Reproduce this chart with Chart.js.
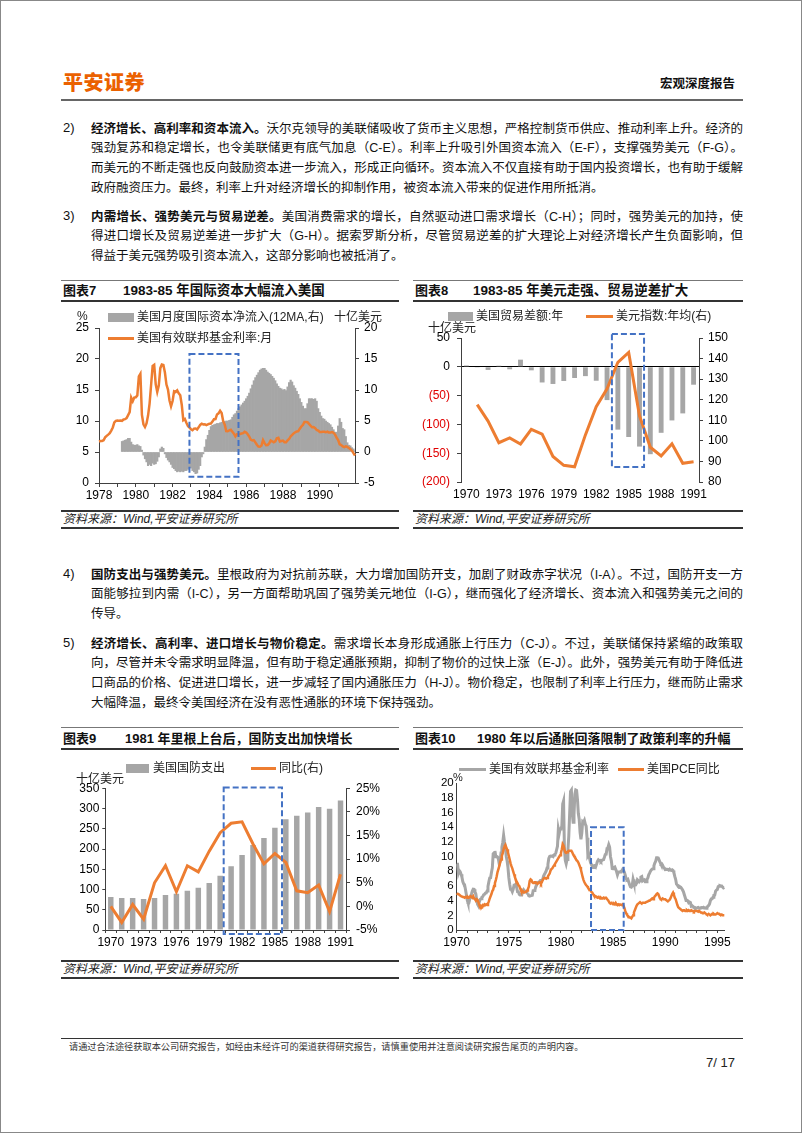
<!DOCTYPE html>
<html>
<head>
<meta charset="utf-8">
<script src="https://cdn.jsdelivr.net/npm/chart.js@4.4.1/dist/chart.umd.min.js"></script>
<style>
  body { margin: 0; background: #fff; }
  .page { position: relative; width: 800px; height: 1131px; border: 1px solid #888; overflow: hidden;
          font-family: "Liberation Sans", "Noto Sans CJK SC", sans-serif; color: #111; }
  .abs { position: absolute; }
  .logo { left: 62px; top: 66px; font-size: 20px; font-weight: 900; color: #eb6100; letter-spacing: 0.5px; font-family: "Noto Sans CJK SC", sans-serif; }
  .rtitle { right: 66px; top: 72px; font-size: 12.5px; font-weight: bold; font-family: "Noto Sans CJK SC", sans-serif; }
  .hline { left: 60px; top: 98px; width: 682px; height: 2px; background: #666; }
  .num { left: 62px; font-size: 13px; line-height: 20px; height: 20px; }
  .ln { left: 90px; width: 652px; height: 20px; line-height: 20px; font-size: 12.5px;
        text-align: justify; text-align-last: justify; font-family: "Liberation Sans", "Noto Sans CJK SC", sans-serif; }
  .ln.last { text-align-last: left; }
  .ln b { font-family: "Noto Sans CJK SC", sans-serif; }
  .tline { height: 0; border-top: 1px solid #777; }
  .bline { height: 0; border-top: 2px solid #333; }
  .ttl { font-size: 13px; font-weight: bold; line-height: 16px; font-family: "Liberation Sans", "Noto Sans CJK SC", sans-serif; }
  .src { font-size: 12px; font-style: italic; line-height: 14px; color: #222; }
  .leg { font-size: 12px; line-height: 14px; color: #222; white-space: nowrap; }
  .box { background: #a6a6a6; }
  .oline { background: #ed7d31; height: 3px; }
  .gline { background: #a6a6a6; height: 3px; }
  .cw { position: absolute; }
</style>
</head>
<body>
<div class="page">
  <div class="abs logo">平安证券</div>
  <div class="abs rtitle">宏观深度报告</div>
  <div class="abs hline"></div>

  <div class="abs num" style="top:117px">2)</div>
  <div class="abs ln" style="top:117px"><b>经济增长、高利率和资本流入。</b>沃尔克领导的美联储吸收了货币主义思想，严格控制货币供应、推动利率上升。经济的</div>
  <div class="abs ln" style="top:137px">强劲复苏和稳定增长，也令美联储更有底气加息（C-E）。利率上升吸引外国资本流入（E-F），支撑强势美元（F-G）。</div>
  <div class="abs ln" style="top:157px">而美元的不断走强也反向鼓励资本进一步流入，形成正向循环。资本流入不仅直接有助于国内投资增长，也有助于缓解</div>
  <div class="abs ln last" style="top:177px">政府融资压力。最终，利率上升对经济增长的抑制作用，被资本流入带来的促进作用所抵消。</div>

  <div class="abs num" style="top:205px">3)</div>
  <div class="abs ln" style="top:205px"><b>内需增长、强势美元与贸易逆差。</b>美国消费需求的增长，自然驱动进口需求增长（C-H）；同时，强势美元的加持，使</div>
  <div class="abs ln" style="top:225px">得进口增长及贸易逆差进一步扩大（G-H）。据索罗斯分析，尽管贸易逆差的扩大理论上对经济增长产生负面影响，但</div>
  <div class="abs ln last" style="top:245px">得益于美元强势吸引资本流入，这部分影响也被抵消了。</div>

  <!-- chart 7 / 8 frames -->
  <div class="abs tline" style="left:60px;top:279px;width:338px"></div>
  <div class="abs bline" style="left:60px;top:299px;width:338px"></div>
  <div class="abs ttl" style="left:62px;top:282px">图表7</div>
  <div class="abs ttl" style="left:122px;top:282px;font-size:13.5px">1983-85 年国际资本大幅流入美国</div>
  <div class="abs tline" style="left:412px;top:279px;width:330px"></div>
  <div class="abs bline" style="left:412px;top:299px;width:330px"></div>
  <div class="abs ttl" style="left:414px;top:282px">图表8</div>
  <div class="abs ttl" style="left:472px;top:282px;font-size:13.5px">1983-85 年美元走强、贸易逆差扩大</div>

  <div class="cw" style="left:60px;top:305px;width:338px;height:200px"><canvas id="c7"></canvas></div>
  <div class="cw" style="left:412px;top:305px;width:330px;height:200px"><canvas id="c8"></canvas></div>

  <div class="abs leg" style="left:76px;top:308px">%</div>
  <div class="abs box" style="left:107px;top:312px;width:26px;height:9px"></div>
  <div class="abs leg" style="left:136px;top:309px">美国月度国际资本净流入(12MA,右)</div>
  <div class="abs leg" style="left:333px;top:309px">十亿美元</div>
  <div class="abs oline" style="left:107px;top:336px;width:26px"></div>
  <div class="abs leg" style="left:136px;top:330px">美国有效联邦基金利率:月</div>

  <div class="abs box" style="left:447px;top:311px;width:25px;height:9px"></div>
  <div class="abs leg" style="left:475px;top:308px">美国贸易差额:年</div>
  <div class="abs oline" style="left:585px;top:314px;width:27px"></div>
  <div class="abs leg" style="left:615px;top:308px">美元指数:年均(右)</div>
  <div class="abs leg" style="left:427px;top:320px">十亿美元</div>

  <div class="abs bline" style="left:60px;top:509px;width:338px"></div>
  <div class="abs src" style="left:62px;top:511px">资料来源：Wind,平安证券研究所</div>
  <div class="abs bline" style="left:60px;top:526px;width:338px"></div>
  <div class="abs bline" style="left:412px;top:509px;width:330px"></div>
  <div class="abs src" style="left:414px;top:511px">资料来源：Wind,平安证券研究所</div>
  <div class="abs bline" style="left:412px;top:526px;width:330px"></div>

  <div class="abs num" style="top:563px">4)</div>
  <div class="abs ln" style="top:563px"><b>国防支出与强势美元。</b>里根政府为对抗前苏联，大力增加国防开支，加剧了财政赤字状况（I-A）。不过，国防开支一方</div>
  <div class="abs ln" style="top:583px">面能够拉到内需（I-C），另一方面帮助巩固了强势美元地位（I-G），继而强化了经济增长、资本流入和强势美元之间的</div>
  <div class="abs ln last" style="top:603px">传导。</div>

  <div class="abs num" style="top:632px">5)</div>
  <div class="abs ln" style="top:632px"><b>经济增长、高利率、进口增长与物价稳定。</b>需求增长本身形成通胀上行压力（C-J）。不过，美联储保持紧缩的政策取</div>
  <div class="abs ln" style="top:652px">向，尽管并未令需求明显降温，但有助于稳定通胀预期，抑制了物价的过快上涨（E-J）。此外，强势美元有助于降低进</div>
  <div class="abs ln" style="top:672px">口商品的价格、促进进口增长，进一步减轻了国内通胀压力（H-J）。物价稳定，也限制了利率上行压力，继而防止需求</div>
  <div class="abs ln last" style="top:692px">大幅降温，最终令美国经济在没有恶性通胀的环境下保持强劲。</div>

  <!-- chart 9 / 10 frames -->
  <div class="abs tline" style="left:60px;top:726px;width:338px"></div>
  <div class="abs bline" style="left:60px;top:747px;width:338px"></div>
  <div class="abs ttl" style="left:62px;top:730px">图表9</div>
  <div class="abs ttl" style="left:124px;top:730px">1981 年里根上台后，国防支出加快增长</div>
  <div class="abs tline" style="left:412px;top:726px;width:330px"></div>
  <div class="abs bline" style="left:412px;top:747px;width:330px"></div>
  <div class="abs ttl" style="left:414px;top:730px">图表10</div>
  <div class="abs ttl" style="left:476px;top:730px">1980 年以后通胀回落限制了政策利率的升幅</div>

  <div class="cw" style="left:60px;top:752px;width:338px;height:200px"><canvas id="c9"></canvas></div>
  <div class="cw" style="left:412px;top:752px;width:330px;height:200px"><canvas id="c10"></canvas></div>

  <div class="abs box" style="left:125px;top:763px;width:23px;height:9px"></div>
  <div class="abs leg" style="left:152px;top:760px">美国国防支出</div>
  <div class="abs oline" style="left:250px;top:766px;width:25px"></div>
  <div class="abs leg" style="left:278px;top:760px">同比(右)</div>
  <div class="abs leg" style="left:75px;top:771px">十亿美元</div>

  <div class="abs gline" style="left:458px;top:767px;width:27px"></div>
  <div class="abs leg" style="left:488px;top:761px">美国有效联邦基金利率</div>
  <div class="abs oline" style="left:617px;top:767px;width:26px"></div>
  <div class="abs leg" style="left:646px;top:761px">美国PCE同比</div>
  <div class="abs leg" style="left:452px;top:769px;font-size:11px">%</div>

  <div class="abs bline" style="left:60px;top:959px;width:338px"></div>
  <div class="abs src" style="left:62px;top:961px">资料来源：Wind,平安证券研究所</div>
  <div class="abs bline" style="left:60px;top:976px;width:338px"></div>
  <div class="abs bline" style="left:412px;top:959px;width:330px"></div>
  <div class="abs src" style="left:414px;top:961px">资料来源：Wind,平安证券研究所</div>
  <div class="abs bline" style="left:412px;top:976px;width:330px"></div>

  <div class="abs" style="left:60px;top:1037px;width:682px;height:0;border-top:1px solid #333"></div>
  <div class="abs" style="left:68px;top:1039px;font-size:9.2px;line-height:12px;color:#333;font-family:'Noto Sans CJK SC',sans-serif">请通过合法途径获取本公司研究报告，如经由未经许可的渠道获得研究报告，请慎重使用并注意阅读研究报告尾页的声明内容。</div>
  <div class="abs" style="right:66px;top:1054px;font-size:13px;line-height:16px;color:#222">7/ 17</div>
</div>

<script>
// effective fed funds rate, monthly, 1970-01 .. 1995-09
const fedFunds = [
  8.98, 8.98, 7.76, 8.10, 7.95, 7.61, 7.21, 6.61, 6.29, 6.20, 5.60, 4.90,
  4.14, 3.72, 3.71, 4.16, 4.63, 4.91, 5.31, 5.57, 5.55, 5.20, 4.91, 4.14,
  3.50, 3.29, 3.83, 4.17, 4.27, 4.46, 4.55, 4.80, 4.87, 5.04, 5.06, 5.33,
  5.94, 6.58, 7.09, 7.12, 7.84, 8.49, 10.40, 10.50, 10.78, 10.01, 10.03, 9.95,
  9.65, 8.97, 9.35, 10.51, 11.31, 11.93, 12.92, 12.01, 11.34, 10.06, 9.45, 8.53,
  7.13, 6.24, 5.54, 5.49, 5.22, 5.55, 6.10, 6.14, 6.24, 5.82, 5.22, 5.20,
  4.87, 4.77, 4.84, 4.82, 5.29, 5.48, 5.31, 5.29, 5.25, 5.02, 4.95, 4.65,
  4.61, 4.68, 4.69, 4.73, 5.35, 5.39, 5.42, 5.90, 6.14, 6.47, 6.51, 6.56,
  6.70, 6.78, 6.79, 6.89, 7.36, 7.60, 7.81, 8.04, 8.45, 8.96, 9.76, 10.03,
  10.07, 10.06, 10.09, 10.01, 10.24, 10.29, 10.47, 10.94, 11.43, 13.77, 13.18, 13.78,
  13.82, 14.13, 17.19, 17.61, 10.98, 9.47, 9.03, 9.61, 10.87, 12.81, 15.85, 18.90,
  19.08, 15.93, 14.70, 15.72, 18.52, 19.10, 19.04, 17.82, 15.87, 15.08, 13.31, 12.37,
  13.22, 14.78, 14.68, 14.94, 14.45, 14.15, 12.59, 10.12, 10.31, 9.71, 9.20, 8.95,
  8.68, 8.51, 8.77, 8.80, 8.63, 8.98, 9.37, 9.56, 9.45, 9.48, 9.34, 9.47,
  9.56, 9.59, 9.91, 10.29, 10.32, 11.06, 11.23, 11.64, 11.30, 9.99, 9.43, 8.38,
  8.35, 8.50, 8.58, 8.27, 7.97, 7.53, 7.88, 7.90, 7.92, 7.99, 8.05, 8.27,
  8.14, 7.86, 7.48, 6.99, 6.85, 6.92, 6.56, 6.17, 5.89, 5.85, 6.04, 6.91,
  6.43, 6.10, 6.13, 6.37, 6.85, 6.73, 6.58, 6.73, 7.22, 7.29, 6.69, 6.77,
  6.83, 6.58, 6.58, 6.87, 7.09, 7.51, 7.75, 8.01, 8.19, 8.30, 8.35, 8.76,
  9.12, 9.36, 9.85, 9.84, 9.81, 9.53, 9.24, 8.99, 9.02, 8.84, 8.55, 8.45,
  8.23, 8.24, 8.28, 8.26, 8.18, 8.29, 8.15, 8.13, 8.20, 8.11, 7.81, 7.31,
  6.91, 6.25, 6.12, 5.91, 5.78, 5.90, 5.82, 5.66, 5.45, 5.21, 4.81, 4.43,
  4.03, 4.06, 3.98, 3.73, 3.82, 3.76, 3.25, 3.30, 3.22, 3.10, 3.09, 2.92,
  3.02, 3.03, 3.07, 2.96, 3.00, 3.04, 3.06, 3.03, 3.09, 2.99, 3.02, 2.96,
  3.05, 3.25, 3.34, 3.56, 4.01, 4.25, 4.26, 4.47, 4.73, 4.76, 5.29, 5.45,
  5.53, 5.92, 5.98, 6.05, 6.01, 6.00, 5.85, 5.74, 5.80
];
// PCE yoy %, monthly, 1970-01 .. 1995-09
const pceYoy = [
  5.0, 4.9, 4.9, 4.8, 4.7, 4.6, 4.6, 4.5, 4.5, 4.4, 4.5, 4.5,
  4.4, 4.5, 4.4, 4.5, 4.6, 4.5, 4.4, 4.6, 4.3, 4.2, 4.0, 4.2,
  4.1, 3.8, 3.4, 3.1, 3.3, 3.2, 3.4, 3.3, 3.5, 3.4, 3.5, 3.4,
  3.6, 3.9, 4.3, 4.6, 4.9, 5.3, 5.5, 6.0, 6.4, 6.8, 7.3, 7.9,
  8.3, 8.7, 9.2, 9.6, 10.1, 10.5, 11.0, 11.4, 11.6, 11.3, 11.0, 10.6,
  10.1, 9.6, 9.1, 8.7, 8.4, 8.0, 7.6, 7.2, 6.9, 6.6, 6.4, 6.1,
  6.0, 5.7, 5.4, 5.3, 5.3, 5.1, 5.1, 5.2, 5.2, 5.4, 5.6, 5.9,
  6.7, 6.9, 6.8, 6.5, 6.4, 6.4, 6.5, 6.5, 6.4, 6.3, 6.4, 6.5,
  6.5, 6.3, 6.5, 6.8, 7.0, 7.1, 7.1, 7.0, 7.1, 7.3, 7.5, 7.7,
  8.1, 8.3, 8.4, 8.6, 8.8, 9.0, 9.2, 9.4, 9.6, 9.8, 10.0, 10.2,
  10.5, 11.0, 11.7, 11.5, 11.0, 10.6, 10.5, 10.6, 10.7, 10.8, 10.8, 10.8,
  10.8, 10.6, 10.3, 10.1, 10.0, 9.7, 9.5, 9.4, 9.2, 8.9, 8.6, 8.2,
  7.7, 7.2, 6.8, 6.5, 6.3, 6.1, 6.0, 5.8, 5.6, 5.5, 5.4, 5.2,
  5.1, 4.9, 4.7, 4.6, 4.6, 4.5, 4.4, 4.5, 4.4, 4.3, 4.4, 4.3,
  4.3, 4.4, 4.3, 4.4, 4.4, 4.2, 4.1, 3.9, 3.7, 3.6, 3.7, 3.6,
  3.5, 3.6, 3.5, 3.7, 3.5, 3.4, 3.5, 3.4, 3.5, 3.5, 3.4, 3.5,
  3.3, 3.0, 2.6, 2.3, 2.1, 1.9, 1.8, 1.7, 1.7, 1.6, 1.8, 2.0,
  2.4, 2.7, 3.0, 3.3, 3.5, 3.6, 3.7, 3.8, 3.7, 3.6, 3.7, 3.7,
  3.7, 3.7, 3.8, 3.8, 3.9, 4.0, 4.0, 4.1, 4.2, 4.3, 4.2, 4.4,
  4.6, 4.7, 4.9, 5.0, 4.9, 4.6, 4.3, 4.2, 4.2, 4.3, 4.2, 4.2,
  4.2, 4.1, 4.0, 3.9, 4.0, 4.1, 4.3, 4.6, 4.9, 5.1, 4.8, 4.4,
  4.2, 3.8, 3.4, 3.1, 3.0, 2.9, 2.8, 2.7, 2.6, 2.7, 2.7, 2.6,
  2.6, 2.7, 2.6, 2.7, 2.6, 2.6, 2.7, 2.6, 2.6, 2.5, 2.6, 2.6,
  2.6, 2.6, 2.5, 2.6, 2.5, 2.4, 2.4, 2.3, 2.3, 2.4, 2.3, 2.2,
  2.1, 2.1, 2.2, 2.1, 2.0, 2.1, 2.2, 2.1, 2.2, 2.1, 2.1, 2.2,
  2.3, 2.2, 2.2, 2.1, 2.1, 2.1, 2.0, 2.0, 2.0
];
// net capital inflow, 12MA, bn USD, monthly, 1978-01 .. 1991-12
const capInflow = [
  null, null, null, null, null, null, null, null, null, null, null, null,
  null, null, null, 1.7, 1.8, 1.9, 2.0, 2.2, 2.2, 1.6, 1.2, 1.1,
  1.1, 1.2, 1.0, 0.9, 0.3, -0.5, -1.1, -1.6, -2.2, -2.0, -2.2, -1.8,
  -2.0, -1.9, -1.5, -0.8, 0.5, 0.8, 0.6, -0.3, -0.9, -1.3, -1.6, -2.0,
  -2.5, -2.7, -3.0, -3.2, -3.1, -3.2, -3.1, -3.2, -3.0, -3.0, -2.8, -2.4,
  -2.6, -3.0, -3.2, -3.5, -3.4, -2.8, -2.2, -0.8, -0.3, 0.8, 2.0, 2.7,
  3.5, 4.1, 4.3, 4.4, 4.5, 4.6, 4.6, 4.7, 4.8, 4.9, 4.9, 5.0,
  5.0, 5.1, 5.2, 5.6, 6.0, 6.2, 6.6, 7.0, 7.3, 7.6, 7.9, 8.2,
  8.6, 9.0, 9.5, 10.2, 10.8, 11.5, 12.0, 12.4, 12.8, 13.2, 13.4, 13.5,
  13.5, 13.2, 12.9, 12.7, 12.5, 12.2, 11.9, 11.5, 11.0, 10.6, 10.3, 10.2,
  10.0, 10.1, 9.9, 10.5, 11.2, 11.6, 11.3, 10.7, 10.3, 9.8, 9.3, 8.6,
  8.0, 7.4, 7.0, 7.0, 7.8, 8.6, 8.6, 8.6, 8.5, 8.6, 8.2, 7.0,
  6.4, 5.8, 5.4, 5.3, 5.0, 4.8, 4.6, 4.4, 4.0, 3.6, 3.2, 3.2,
  4.2, 5.4, 4.8, 3.8, 3.6, 2.5, 1.5, 1.1, 1.0, 0.7, 0.5, 0.2
];

const years = ["1970", "1971", "1972", "1973", "1974", "1975", "1976", "1977", "1978", "1979", "1980",
  "1981", "1982", "1983", "1984", "1985", "1986", "1987", "1988", "1989", "1990", "1991"];
const tradeBalance = [2.3, -1.3, -5.4, 1.9, -4.3, 12.4, -6.1, -27.2, -29.8, -24.6, -19.4,
  -16.2, -24.2, -57.8, -109.1, -121.9, -138.5, -151.7, -114.6, -93.1, -80.9, -31.1];
const dollarIndex = [null, 117.6, 109.6, 99.1, 101.4, 98.5, 105.6, 103.3, 92.4, 88.1, 87.4,
  102.9, 116.6, 125.3, 138.2, 143.0, 112.2, 96.9, 92.7, 98.6, 89.1, 89.8];
const defenseSpend = [81.7, 78.9, 79.2, 76.7, 79.3, 86.5, 89.6, 97.2, 104.5, 116.3, 134.0,
  157.5, 185.3, 209.9, 227.4, 252.7, 273.4, 282.0, 290.4, 303.6, 299.3, 320.0];
const defenseYoy = [0.0, -3.4, 0.4, -2.7, 5.0, 8.6, 3.1, 8.6, 7.3, 11.7, 15.6,
  17.6, 17.9, 13.2, 9.0, 11.2, 9.3, 3.3, 2.9, 4.5, -1.1, 6.8];

function monthLabels(y0, y1, lastMonth) {
  const out = [];
  for (let y = y0; y <= y1; y++) {
    const end = y === y1 ? lastMonth : 12;
    for (let m = 1; m <= end; m++) out.push(y + "-" + (m < 10 ? "0" + m : m));
  }
  return out;
}
const months7 = monthLabels(1978, 1991, 12);
const months10 = monthLabels(1970, 1995, 9);
const fed7 = fedFunds.slice(months10.indexOf("1978-01"), months10.indexOf("1991-12") + 1);

const ORANGE = "#ed7d31";
const GRAY = "#a6a6a6";
const AX = "#404040";
const CLEAR = "rgba(0,0,0,0)";

Chart.defaults.font.family = '"Liberation Sans", "Noto Sans CJK SC", sans-serif';
Chart.defaults.font.size = 12;
Chart.defaults.color = "#000";

// blue dashed highlight box, placed in data units
const dashBox = {
  id: "dashBox",
  afterDraw(chart, args, opts) {
    const xs = chart.scales.x;
    const ys = chart.scales[opts.axis];
    const x0 = xs.getPixelForValue(opts.x0), x1 = xs.getPixelForValue(opts.x1);
    const y0 = ys.getPixelForValue(opts.y0), y1 = ys.getPixelForValue(opts.y1);
    const c = chart.ctx;
    c.save();
    c.setLineDash([6, 3]);
    c.strokeStyle = "#4472c4";
    c.lineWidth = 2;
    c.strokeRect(x0, y1, x1 - x0, y0 - y1);
    c.restore();
  }
};

const base = {
  animation: false,
  responsive: true,
  maintainAspectRatio: false,
  plugins: { legend: { display: false }, tooltip: { enabled: false } }
};

// chart 7
new Chart(document.getElementById("c7"), {
  type: "bar",
  data: {
    labels: months7,
    datasets: [
      { type: "line", data: fed7, yAxisID: "y", borderColor: ORANGE, borderWidth: 2.5, pointRadius: 0, order: 0 },
      { type: "bar", data: capInflow, yAxisID: "y2", backgroundColor: GRAY, barPercentage: 1, categoryPercentage: 1, order: 1 }
    ]
  },
  options: {
    ...base,
    layout: { padding: { top: 22 } },
    plugins: { ...base.plugins, dashBox: { axis: "y", x0: 59, x1: 91, y0: 1, y1: 20.8 } },
    scales: {
      x: {
        offset: false,
        grid: { offset: false, drawOnChartArea: false, tickLength: 4, color: c => (c.index % 12 === 0 ? AX : CLEAR) },
        border: { color: AX },
        ticks: {
          autoSkip: false, maxRotation: 0, padding: 1,
          callback: (v, i) => (i % 24 === 0 ? months7[i].slice(0, 4) : "")
        },
        afterFit: s => { s.height = 23; }
      },
      y: {
        position: "left", min: 0, max: 25,
        ticks: { stepSize: 5, padding: 6 },
        grid: { drawOnChartArea: false, tickLength: 4, color: AX },
        border: { color: AX },
        afterFit: s => { s.width = 38; }
      },
      y2: {
        position: "right", min: -5, max: 20,
        ticks: { stepSize: 5, padding: 5 },
        grid: { drawOnChartArea: false, tickLength: 4, color: AX },
        border: { color: AX },
        afterFit: s => { s.width = 44; }
      }
    }
  },
  plugins: [dashBox]
});

// chart 8
new Chart(document.getElementById("c8"), {
  type: "bar",
  data: {
    labels: years,
    datasets: [
      { type: "line", data: dollarIndex, yAxisID: "y2", borderColor: ORANGE, borderWidth: 3, pointRadius: 0, order: 0 },
      { type: "bar", data: tradeBalance, yAxisID: "y", backgroundColor: GRAY, barPercentage: 0.45, categoryPercentage: 1, order: 1 }
    ]
  },
  options: {
    ...base,
    layout: { padding: { top: 32 } },
    plugins: { ...base.plugins, dashBox: { axis: "y2", x0: 13.45, x1: 16.42, y0: 87.3, y1: 152 } },
    scales: {
      x: {
        grid: { display: false, drawTicks: false },
        border: { display: false },
        ticks: { autoSkip: false, maxRotation: 0, padding: 5, callback: (v, i) => (i % 3 === 0 ? years[i] : "") },
        afterFit: s => { s.height = 24; }
      },
      y: {
        position: "left", min: -200, max: 50,
        ticks: {
          stepSize: 50, padding: 7,
          color: c => (c.tick && c.tick.value < 0 ? "#e00000" : "#000"),
          callback: v => (v < 0 ? "(" + (-v) + ")" : String(v))
        },
        grid: { drawOnChartArea: true, tickLength: 4, tickColor: AX, color: c => (c.tick && c.tick.value === 0 ? "#000" : CLEAR) },
        border: { color: AX },
        afterFit: s => { s.width = 48; }
      },
      y2: {
        position: "right", min: 80, max: 150,
        ticks: { stepSize: 10, padding: 5 },
        grid: { drawOnChartArea: false, tickLength: 4, color: AX },
        border: { color: AX },
        afterFit: s => { s.width = 44; }
      }
    }
  },
  plugins: [dashBox]
});

// chart 9
new Chart(document.getElementById("c9"), {
  type: "bar",
  data: {
    labels: years,
    datasets: [
      { type: "line", data: defenseYoy, yAxisID: "y2", borderColor: ORANGE, borderWidth: 3, pointRadius: 0, order: 0 },
      { type: "bar", data: defenseSpend, yAxisID: "y", backgroundColor: GRAY, barPercentage: 0.5, categoryPercentage: 1, order: 1 }
    ]
  },
  options: {
    ...base,
    layout: { padding: { top: 35.3 } },
    plugins: { ...base.plugins, dashBox: { axis: "y", x0: 10.32, x1: 15.65, y0: -10, y1: 352 } },
    scales: {
      x: {
        grid: { drawOnChartArea: false, tickLength: 3, color: AX },
        border: { color: AX },
        ticks: { autoSkip: false, maxRotation: 0, padding: 2, callback: (v, i) => (i % 3 === 0 ? years[i] : "") },
        afterFit: s => { s.height = 23; }
      },
      y: {
        position: "left", min: 0, max: 350,
        ticks: { stepSize: 50, padding: 3 },
        grid: { drawOnChartArea: false, tickLength: 3, color: AX },
        border: { color: AX },
        afterFit: s => { s.width = 44.3; }
      },
      y2: {
        position: "right", min: -5, max: 25,
        ticks: { stepSize: 5, padding: 6, callback: v => v + "%" },
        grid: { drawOnChartArea: false, tickLength: 4, color: AX },
        border: { color: AX },
        afterFit: s => { s.width = 53; }
      }
    }
  },
  plugins: [dashBox]
});

// chart 10
new Chart(document.getElementById("c10"), {
  type: "line",
  data: {
    labels: months10,
    datasets: [
      { data: pceYoy, borderColor: ORANGE, borderWidth: 2.5, pointRadius: 0, order: 0 },
      { data: fedFunds, borderColor: GRAY, borderWidth: 3, pointRadius: 0, order: 1 }
    ]
  },
  options: {
    ...base,
    layout: { padding: { top: 30.3, right: 18.7 } },
    plugins: { ...base.plugins, dashBox: { axis: "y", x0: 154.6, x1: 192.2, y0: 0, y1: 14 } },
    scales: {
      x: {
        offset: false,
        grid: { drawOnChartArea: false, tickLength: 3, color: c => (c.index % 12 === 0 ? AX : CLEAR) },
        border: { color: AX },
        ticks: { autoSkip: false, maxRotation: 0, padding: 2, callback: (v, i) => (i % 60 === 0 ? months10[i].slice(0, 4) : "") },
        afterFit: s => { s.height = 23; }
      },
      y: {
        min: 0, max: 20,
        ticks: { stepSize: 2, padding: 3, autoSkip: false, font: { size: 11.5 } },
        grid: { drawOnChartArea: false, drawTicks: false, color: AX },
        border: { color: AX },
        afterFit: s => { s.width = 43.7; }
      }
    }
  },
  plugins: [dashBox]
});
</script>
</body>
</html>
